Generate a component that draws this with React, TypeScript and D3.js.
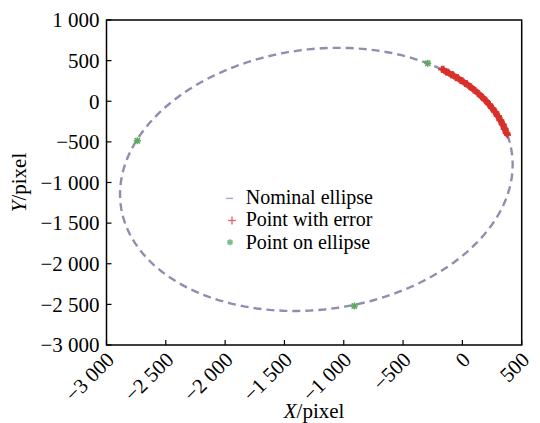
import React from "react";
import * as d3 from "d3";

const xTicks = [-3000, -2500, -2000, -1500, -1000, -500, 0, 500];
const yTicks = [1000, 500, 0, -500, -1000, -1500, -2000, -2500, -3000];

// Nominal ellipse parameters (data units)
const ellipseCenter = [-1231, -962];
const ellipseAxes = [1728, 1541];
const ellipseRotationDeg = 39.5;

// Points on ellipse (green asterisks)
const onEllipseX = [-2740, -292, -911];
const onEllipseY = [-486, 467, -2520];

// Points with error (red plus markers)
const errorX = [-174, -153, -131, -110, -88, -68, -48, -28, -7, 11, 30, 49, 67, 84, 101, 119, 136, 151, 167, 182, 197, 211, 225, 238, 252, 264, 276, 288, 300, 310, 320, 330, 340, 348, 356, 364, 372, 380,
  -160, -140, -118, -97, -77, -57, -37, -17, 2, 21, 40, 58, 76, 93, 110, 128, 143, 159, 175, 190, 204, 218, 232, 245, 258, 270, 282, 294, 305, 315, 325, 335, 344, 352, 360, 368, 376];
const errorY = [392, 376, 360, 343, 327, 309, 291, 273, 256, 236, 217, 197, 178, 157, 137, 116, 95, 73, 51, 29, 7, -16, -39, -63, -86, -110, -135, -159, -183, -208, -234, -259, -284, -310, -336, -362, -388, -414,
  395, 361, 358, 325, 326, 290, 290, 255, 252, 218, 216, 180, 175, 139, 132, 99, 90, 55, 48, 12, 4, -34, -40, -82, -90, -128, -134, -181, -186, -232, -236, -285, -288, -337, -340, -390, -395];

const legendLabels = ["Nominal ellipse", "Point with error", "Point on ellipse"];

const W = 540;
const H = 423;
const plotLeft = 106.5;
const plotRight = 521.7;
const plotTop = 20;
const plotBottom = 345;

const FONT = '"Liberation Serif", "DejaVu Serif", serif';

function fmt(n: number): string {
  const s = Math.abs(n).toString();
  const grouped = s.length > 3 ? s.slice(0, s.length - 3) + " " + s.slice(s.length - 3) : s;
  return (n < 0 ? "\u2212" : "") + grouped;
}

export default function App() {
  const x = d3.scaleLinear().domain([-3000, 500]).range([plotLeft, plotRight]);
  const y = d3.scaleLinear().domain([-3000, 1000]).range([plotBottom, plotTop]);

  const th = (ellipseRotationDeg * Math.PI) / 180;
  const ts = d3.range(0, 361, 2).map((d) => (d * Math.PI) / 180);
  const ellPts: [number, number][] = ts.map((t) => {
    const ex = ellipseCenter[0] + ellipseAxes[0] * Math.cos(t) * Math.cos(th) - ellipseAxes[1] * Math.sin(t) * Math.sin(th);
    const ey = ellipseCenter[1] + ellipseAxes[0] * Math.cos(t) * Math.sin(th) + ellipseAxes[1] * Math.sin(t) * Math.cos(th);
    return [ex, ey];
  });
  const line = d3
    .line<[number, number]>()
    .x((d) => x(d[0]))
    .y((d) => y(d[1]))
    .curve(d3.curveLinearClosed);

  const red = "#d8302a";
  const green = "#5fa860";
  const ellColor = "#8d8fae";

  const plus = (cx: number, cy: number, s: number, key: string | number, color: string, sw = 1.8) => (
    <g key={key} stroke={color} strokeWidth={sw}>
      <line x1={cx - s} x2={cx + s} y1={cy} y2={cy} />
      <line x1={cx} x2={cx} y1={cy - s} y2={cy + s} />
    </g>
  );
  const star = (cx: number, cy: number, s: number, key: string | number, color: string) => (
    <g key={key} stroke={color} strokeWidth={1.6}>
      <line x1={cx - s} x2={cx + s} y1={cy} y2={cy} />
      <line x1={cx} x2={cx} y1={cy - s} y2={cy + s} />
      <line x1={cx - s * 0.75} x2={cx + s * 0.75} y1={cy - s * 0.75} y2={cy + s * 0.75} />
      <line x1={cx - s * 0.75} x2={cx + s * 0.75} y1={cy + s * 0.75} y2={cy - s * 0.75} />
    </g>
  );

  const legendSymX = 230;
  const legendBase0 = 204.1;
  const legendStep = 22.2;
  const textStyle = { fontFamily: FONT, fontSize: "21px" } as React.CSSProperties;
  const legendStyle = { fontFamily: FONT, fontSize: "20px" } as React.CSSProperties;

  return (
    <svg width={W} height={H} style={{ position: "absolute", left: 0, top: 0, background: "#fff", fontFamily: FONT }}>
      <rect x={0} y={0} width={W} height={H} fill="#fff" />
      {/* ellipse */}
      <path d={line(ellPts) || ""} fill="none" stroke={ellColor} strokeWidth={2.4} strokeDasharray="8 5" />
      {/* error points */}
      {errorX.map((d, i) => plus(x(d), y(errorY[i]), 3.5, "e" + i, red, 2))}
      {/* on-ellipse points */}
      {onEllipseX.map((d, i) => star(x(d), y(onEllipseY[i]), 3.5, "g" + i, green))}

      {/* frame */}
      <rect x={plotLeft} y={plotTop} width={plotRight - plotLeft} height={plotBottom - plotTop} fill="none" stroke="#000" strokeWidth={1.5} />
      {/* y ticks */}
      {yTicks.map((t) => (
        <g key={"y" + t}>
          <line x1={plotLeft} x2={plotLeft + 5} y1={y(t)} y2={y(t)} stroke="#000" strokeWidth={1.2} />
          <text x={plotLeft - 7} y={y(t)} dy="0.35em" textAnchor="end" style={textStyle}>
            {fmt(t)}
          </text>
        </g>
      ))}
      {/* x ticks */}
      {xTicks.map((t) => (
        <g key={"x" + t}>
          <line x1={x(t)} x2={x(t)} y1={plotBottom} y2={plotBottom - 5} stroke="#000" strokeWidth={1.2} />
          <text transform={`translate(${x(t) + 9},${plotBottom + 16}) rotate(-45)`} textAnchor="end" style={textStyle}>
            {fmt(t)}
          </text>
        </g>
      ))}
      {/* axis titles */}
      <text x={(plotLeft + plotRight) / 2} y={418} textAnchor="middle" style={textStyle}>
        <tspan fontStyle="italic">X</tspan>/pixel
      </text>
      <text transform={`translate(26,${(plotTop + plotBottom) / 2}) rotate(-90)`} textAnchor="middle" style={textStyle}>
        <tspan fontStyle="italic">Y</tspan>/pixel
      </text>

      {/* legend */}
      <line x1={legendSymX - 4} x2={legendSymX + 3} y1={legendBase0 - 5.7} y2={legendBase0 - 5.7} stroke="#a3b2cc" strokeWidth={1.5} />
      {plus(legendSymX + 2, legendBase0 + legendStep - 5.8, 4, "lp", "#e46a6a", 1.4)}
      {star(legendSymX, legendBase0 + 2 * legendStep - 6.2, 3, "ls", "#7dbb8a")}
      {legendLabels.map((l, i) => (
        <text key={l} x={245.7} y={legendBase0 + i * legendStep} style={legendStyle}>
          {l}
        </text>
      ))}
    </svg>
  );
}
